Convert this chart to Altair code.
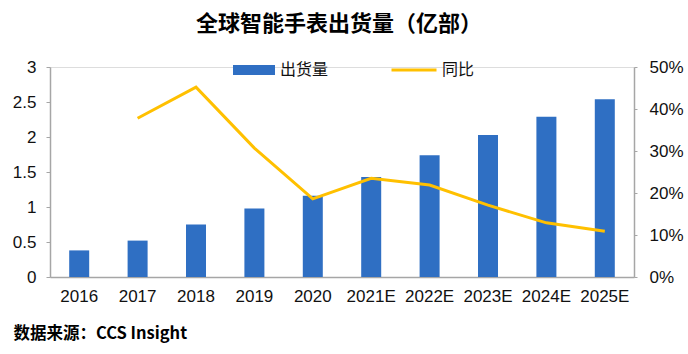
import altair as alt
import pandas as pd

years = ["2016", "2017", "2018", "2019", "2020", "2021E", "2022E", "2023E", "2024E", "2025E"]
shipments = [0.38, 0.52, 0.75, 0.98, 1.16, 1.43, 1.74, 2.03, 2.29, 2.54]
growth = [None, 0.378, 0.452, 0.307, 0.186, 0.235, 0.219, 0.171, 0.129, 0.109]

df = pd.DataFrame({"year": years, "ship": shipments, "growth": growth})
df["s1"] = "出货量"
df["s2"] = "同比"
df_line = df.dropna(subset=["growth"])

BLUE = "#2F6FC3"
GOLD = "#FFC000"
AX = "#A6A6A6"
FONT = "Liberation Sans"

xenc = alt.X(
    "year:N", sort=years,
    scale=alt.Scale(paddingInner=0.66, paddingOuter=0.33),
    axis=alt.Axis(
        title="数据来源：CCS Insight", titleAnchor="start", titleAlign="left",
        titleX=-37, titleY=56, titleBaseline="middle",
        titleFont="Noto Sans CJK SC", titleFontSize=16.5, titleFontWeight="bold",
        titleColor="#000000",
        labelAngle=0, labelFont=FONT, labelFontSize=17, labelColor="#111111",
        labelPadding=11, ticks=False, domainColor=AX, domainWidth=1.5,
    ),
)

bars = alt.Chart(df).mark_bar(size=20, color=BLUE).encode(
    x=xenc,
    y=alt.Y("ship:Q", scale=alt.Scale(domain=[0, 3]),
            axis=alt.Axis(title=None, values=[0, 0.5, 1, 1.5, 2, 2.5, 3], format="~g",
                          labelFont=FONT, labelFontSize=17, labelColor="#111111",
                          tickSize=4, tickColor=AX, domainColor=AX, domainWidth=1.5,
                          labelPadding=10, grid=False, orient="left")),
    fill=alt.Fill("s1:N", scale=alt.Scale(domain=["出货量"], range=[BLUE]),
                  legend=alt.Legend(title=None, orient="none", legendX=183, legendY=-18,
                                    symbolType="M-1,-0.24L1,-0.24L1,0.24L-1,0.24Z",
                                    symbolSize=1764, symbolStrokeWidth=0,
                                    labelFont="Noto Sans CJK SC", labelFontSize=16,
                                    labelColor="#111111", labelOffset=5, padding=0)),
)

line = alt.Chart(df_line).mark_line(strokeWidth=3, color=GOLD).encode(
    x=alt.X("year:N", sort=years),
    y=alt.Y("growth:Q", scale=alt.Scale(domain=[0, 0.5]),
            axis=alt.Axis(title=None, format=".0%", values=[0, 0.1, 0.2, 0.3, 0.4, 0.5],
                          labelFont=FONT, labelFontSize=17, labelColor="#111111",
                          tickSize=3, tickColor=AX, domainColor=AX, domainWidth=1.5,
                          labelPadding=12, grid=False, orient="right")),
    stroke=alt.Stroke("s2:N", scale=alt.Scale(domain=["同比"], range=[GOLD]),
                      legend=alt.Legend(title=None, orient="none", legendX=340, legendY=-21,
                                        symbolType="stroke", symbolSize=2025,
                                        symbolStrokeWidth=3,
                                        labelFont="Noto Sans CJK SC", labelFontSize=16,
                                        labelColor="#111111", labelOffset=4, padding=0)),
)

chart = alt.layer(bars, line).resolve_scale(
    y="independent", fill="independent", stroke="independent"
).resolve_legend(fill="independent", stroke="independent").properties(
    width=584, height=210,
    autosize=alt.AutoSizeParams(type="none"),
    padding={"left": 50, "top": 67, "right": 54, "bottom": 77},
    title=alt.TitleParams("全球智能手表出货量（亿部）", anchor="middle", dx=-3,
                          font="Noto Sans CJK SC", fontSize=22, fontWeight="bold",
                          color="#000000", offset=10),
).configure_view(stroke=None).configure(background="white")

chart.save("out.html", embed_options={"renderer": "svg", "actions": False})
